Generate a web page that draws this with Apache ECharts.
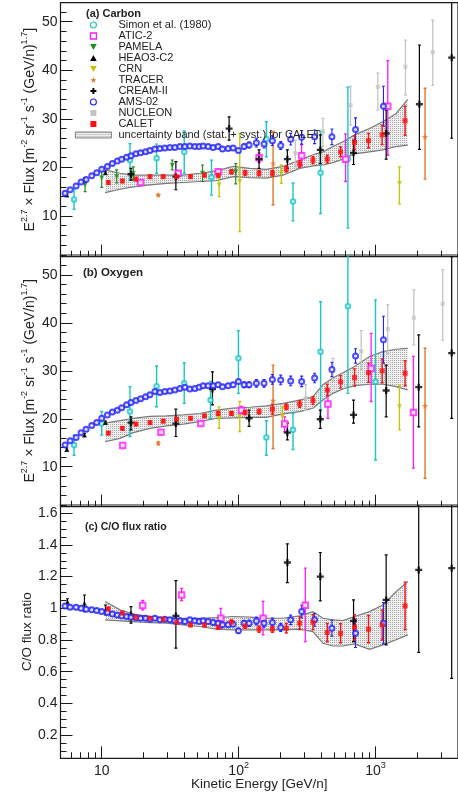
<!DOCTYPE html>
<html><head><meta charset="utf-8">
<script src="https://cdn.jsdelivr.net/npm/echarts@6/dist/echarts.min.js"></script>
<style>html,body{margin:0;padding:0;background:#fff}#c{width:458px;height:799px}</style>
</head><body><div id="c"></div>
<script>
// ---------- DATA ----------
// AMS-02 (shared energy bins, GeV/n)
const amsE = [5.40,5.88,6.50,7.07,7.69,8.46,9.19,10.0,11.0,11.96,13.01,13.99,15.21,16.36,17.79,19.24,20.93,22.51,24.47,26.62,28.95,31.48,34.23,37.23,40.50,44.04,47.89,51.50,55.08,59.91,65.14,70.85,76.20,83.80,91.13,99.66,109.6,119.2,134.8,153.3,176.4,202.9,239.9,288.5,358.8,480.0,714.2,1142];
const amsC = [14.7,15.4,16.2,17.0,17.5,18.3,18.9,19.6,20.2,20.8,21.3,21.7,22.1,22.4,22.8,23.0,23.2,23.5,23.8,23.9,24.0,24.1,24.1,24.3,24.3,24.4,24.3,24.3,24.4,24.3,24.1,24.3,23.8,23.9,24.0,23.5,24.3,24.6,25.1,24.8,25.5,24.5,25.8,26.2,26.3,26.3,27.8,32.6];
const amsCErr = [0.3,0.3,0.3,0.3,0.3,0.3,0.3,0.3,0.3,0.3,0.3,0.3,0.3,0.3,0.3,0.3,0.3,0.3,0.3,0.3,0.3,0.3,0.3,0.3,0.3,0.3,0.3,0.3,0.3,0.3,0.4,0.4,0.4,0.4,0.4,0.4,0.5,0.6,0.9,0.8,1.0,0.8,1.2,1.4,1.4,1.6,2.4,4.1];
const amsO = [14.5,15.4,16.1,17.1,17.8,18.6,19.2,20.1,20.8,21.4,21.8,22.3,22.9,23.4,23.8,24.2,24.6,25.0,25.7,25.5,25.7,25.8,26.0,26.3,26.6,26.2,26.3,26.6,26.9,26.9,26.9,27.1,26.7,26.9,27.1,27.8,27.1,27.1,27.4,27.4,28.2,28.1,27.9,27.8,28.5,30.3,33.1,36.5];
const amsOErr = [0.3,0.3,0.3,0.3,0.3,0.3,0.3,0.3,0.3,0.3,0.3,0.3,0.3,0.3,0.3,0.3,0.3,0.3,0.3,0.3,0.3,0.3,0.3,0.3,0.3,0.3,0.3,0.3,0.3,0.3,0.4,0.4,0.4,0.4,0.4,0.4,0.6,0.6,0.8,0.8,1.0,1.0,1.0,1.1,1.0,1.5,1.5,4.9];
const amsCO = [1.015,1.007,1.007,1.000,0.994,0.990,0.986,0.979,0.973,0.964,0.958,0.952,0.948,0.944,0.941,0.937,0.937,0.931,0.937,0.927,0.931,0.927,0.922,0.922,0.916,0.927,0.922,0.916,0.922,0.916,0.910,0.906,0.896,0.896,0.900,0.858,0.906,0.906,0.920,0.906,0.910,0.878,0.927,0.979,0.927,0.874,0.842,0.906];
const amsCOErr = [0.012,0.012,0.012,0.012,0.012,0.012,0.012,0.012,0.012,0.012,0.012,0.012,0.012,0.012,0.012,0.012,0.012,0.012,0.012,0.012,0.012,0.012,0.012,0.012,0.012,0.012,0.012,0.012,0.012,0.012,0.015,0.015,0.015,0.015,0.015,0.015,0.018,0.02,0.025,0.025,0.028,0.025,0.03,0.04,0.04,0.05,0.09,0.13];

// CALET (shared energy bins)
const caletE = [11.18,14.15,17.79,22.51,28.15,35.21,44.54,56.31,70.85,88.60,111.5,141.0,176.4,223.1,279.0,349.0,443.9,555.2,702.3,888.1,1117,1643];
const caletC = [16.9,17.2,17.6,18.1,18.1,18.1,18.1,18.4,18.4,19.1,18.9,18.8,18.8,19.7,20.7,21.5,21.7,23.2,25.1,25.5,26.7,29.6];
const caletCErr = [0.3,0.3,0.3,0.3,0.3,0.3,0.3,0.3,0.4,0.4,0.5,0.5,0.6,0.6,0.7,0.7,0.8,1.0,1.4,1.5,2.0,3.0];
const caletO = [17.0,18.0,18.9,19.2,19.5,19.9,20.1,20.6,21.1,21.1,21.3,21.5,22.0,22.5,23.1,23.8,26.0,27.7,28.6,29.6,30.0,29.5];
const caletOErr = [0.3,0.3,0.3,0.3,0.3,0.3,0.3,0.3,0.4,0.4,0.5,0.5,1.0,0.6,0.7,0.8,1.2,1.3,1.8,2.0,2.5,2.6];
const caletCO = [0.996,0.969,0.943,0.937,0.931,0.912,0.895,0.895,0.880,0.912,0.889,0.868,0.868,0.874,0.906,0.912,0.847,0.842,0.880,0.868,0.895,1.015];
const caletCOErr = [0.01,0.01,0.01,0.01,0.01,0.01,0.01,0.01,0.012,0.015,0.015,0.02,0.02,0.03,0.04,0.047,0.058,0.06,0.08,0.086,0.095,0.15];

// CALET uncertainty band
const bandE = [10.58,13.60,17.01,22.51,29.78,39.38,52.08,68.88,91.13,120.5,159.4,210.9,279.0,349.0,412.7,488.2,577.4,702.3,903.2,1130,1413,1719];
const bandCLow  = [14.8,15.5,16.0,16.4,16.7,16.9,17.1,17.3,18.1,17.9,17.8,18.4,19.8,20.3,20.5,21.0,21.7,22.8,23.2,23.6,24.3,24.6];
const bandCHigh = [19.5,18.8,18.4,18.4,18.4,18.4,18.8,19.3,20.2,19.8,19.6,20.2,21.5,22.6,23.2,24.3,25.3,26.7,28.0,29.4,31.1,34.0];
const bandOLow  = [15.2,15.9,17.1,18.0,18.5,18.9,19.4,20.1,20.2,20.3,20.3,21.0,21.5,22.2,23.9,25.3,26.2,26.9,27.2,27.2,26.7,26.0];
const bandOHigh = [19.1,19.6,20.1,20.5,20.6,20.8,21.1,21.8,22.2,22.4,22.7,23.2,23.9,24.6,27.1,28.5,29.6,30.9,33.0,34.0,34.5,34.7];
const bandCOLow  = [0.927,0.921,0.916,0.910,0.906,0.895,0.885,0.868,0.864,0.864,0.864,0.864,0.868,0.853,0.779,0.762,0.762,0.775,0.741,0.769,0.801,0.832];
const bandCOHigh = [1.043,0.990,0.964,0.948,0.941,0.937,0.937,0.941,0.948,0.944,0.937,0.937,0.952,0.979,0.937,0.927,0.922,0.948,0.979,1.021,1.105,1.169];

// Other experiments: [E, value, low, high]
const simonC = [[6.28,13.4,11.4,15.5],[16.09,21.5,17.4,24.9],[25.17,21.9,18.8,24.8],[40.05,23.2,18.8,27.5],[63.35,18.0,14.3,21.5],[159.4,25.8,22.2,29.4],[249.5,13.0,9.0,16.8],[396.8,18.9,10.5,27.4],[628.0,21.8,7.5,36.5]];
const aticC = [[19.24,16.9,16.5,17.3],[36.2,18.8,18.3,19.3],[70.85,19.1,18.6,19.6],[141.0,22.0,21.0,23.0],[288.5,22.4,20.4,24.7],[603.8,21.7,17.1,26.9],[1228,32.6,22.5,42.0]];
const pamelaC = [[7.56,16.4,15.0,17.8],[10.0,17.8,15.9,19.5],[12.86,18.1,16.8,19.5],[17.01,18.8,17.4,20.1],[32.74,20.4,19.5,21.5],[54.47,18.8,17.1,20.5],[95.3,19.1,16.6,20.8]];
const heaoC = [[5.56,14.3,14.0,14.6],[7.48,17.4,17.0,17.8],[10.63,18.9,18.6,19.2]];
const crnC = [[72.05,16.4,14.0,18.8],[101.9,17.1,6.8,27.0],[205.1,18.8,16.7,20.5],[1494,16.7,12.5,20.1]];
const tracerC = [[25.88,14.3,14.1,14.5],[178.4,20.8,12.3,27.4],[2298,26.3,17.6,36.3]];
const creamC = [[16.36,18.6,17.4,19.8],[34.8,18.1,15.4,21.2],[85.2,28.0,25.6,30.4],[141.0,21.7,19.8,23.6],[226.9,21.7,19.8,23.6],[394.7,23.6,20.8,26.7],[690.5,23.0,20.6,25.6],[1195,27.0,21.7,31.8],[2090,33.0,23.7,45.2],[3597,42.6,26.0,56.0]];
const nucleonC = [[259.4,22.9,20.1,25.6],[412.6,27.4,24.3,30.1],[656.8,32.8,28.7,36.7],[1039,36.6,31.8,39.4],[1653,40.7,34.9,46.2],[2615,43.7,36.9,50.3]];

const simonO = [[6.28,14.5,12.4,16.6],[10.0,19.0,16.6,21.5],[16.09,21.5,16.3,26.7],[25.17,26.8,22.5,31.0],[40.05,27.4,23.2,31.7],[62.3,23.9,20.1,27.8],[99.66,32.6,25.3,38.4],[159.4,16.1,12.4,19.6],[249.5,17.7,13.6,21.1],[396.8,34.0,20.1,44.4],[628.0,43.5,25.3,56.0],[998.9,27.7,11.4,44.8]];
const aticO = [[14.23,14.4,14.1,14.7],[27.07,17.2,16.9,17.5],[52.97,19.0,18.7,19.3],[104.8,21.8,21.0,22.6],[216.9,18.9,17.3,20.4],[448.9,23.1,20.1,26.0],[928.8,30.5,23.6,37.8],[1890,21.3,9.7,33.0]];
const heaoO = [[5.56,13.6,13.3,13.9],[7.48,16.6,16.3,16.9],[10.63,19.2,18.9,19.5]];
const crnO = [[72.05,20.1,18.0,22.5],[101.9,20.4,17.3,23.6],[208.5,20.4,18.4,22.5],[1494,22.5,17.7,27.0]];
const tracerO = [[25.88,14.9,14.6,15.2],[178.4,23.8,13.8,31.2],[2298,22.7,7.6,34.7]];
const creamO = [[16.36,19.2,17.7,20.4],[34.8,19.0,16.3,22.0],[64.4,26.2,22.9,29.8],[119.2,20.1,18.4,21.8],[226.9,17.1,15.6,19.1],[394.7,19.9,18.0,21.8],[690.5,20.8,19.1,23.9],[1195,25.9,20.4,31.2],[2066,26.6,18.3,37.5],[3597,33.7,20.1,53.8]];
const nucleonO = [[308.5,24.3,21.8,27.1],[488.2,30.0,27.8,32.6],[785.6,34.1,30.2,38.4],[1228,38.7,33.6,43.8],[1903,41.1,35.4,46.9],[3092,44.0,36.4,51.1]];

const aticCO = [[19.9,1.017,0.990,1.049],[38.3,1.084,1.049,1.126],[74.1,0.937,0.874,1.000],[150.8,0.937,0.832,1.043],[306.8,1.019,0.790,1.253]];
const heaoCO = [[5.62,1.042,1.020,1.060],[7.48,1.032,0.979,1.084],[10.63,0.985,0.958,1.021]];
const creamCO = [[16.36,0.958,0.906,1.011],[34.8,0.952,0.748,1.175],[226.9,1.289,1.162,1.406],[394.7,1.200,1.047,1.352],[690.5,0.920,0.790,1.053],[1195,1.053,0.769,1.337],[2066,1.242,0.722,1.70],[3597,1.253,0.558,1.70]];

// Axis ticks
const xMajor = [10,100,1000];
const xMinor = [6,7,8,9,20,30,40,50,60,70,80,90,200,300,400,500,600,700,800,900,2000,3000,4000];
const yFluxMajor = [10,20,30,40,50];
const yFluxMinor = [2,4,6,8,12,14,16,18,22,24,26,28,32,34,36,38,42,44,46,48,52];
const yRatioMajor = [0.2,0.4,0.6,0.8,1.0,1.2,1.4,1.6];
const yRatioMinor = [0.05,0.1,0.15,0.25,0.3,0.35,0.45,0.5,0.55,0.65,0.7,0.75,0.85,0.9,0.95,1.05,1.1,1.15,1.25,1.3,1.35,1.45,1.5,1.55,1.65];

// ---------- CHART ----------
const FONT = 'Liberation Sans, Arial, Helvetica, sans-serif';
const TXT = '#222';
const COL = {simon:'#19c6c6', atic:'#ff1aff', pamela:'#1e8c1e', heao:'#000', crn:'#c4c400', tracer:'#e0782a', cream:'#000', ams:'#2222ff', nucleon:'#c4c4c4', calet:'#ff1010'};
const STAR = 'path://M50,0L61,35L98,35L68,57L79,91L50,70L21,91L32,57L2,35L39,35Z';
const DTRI = 'path://M0,0L10,0L5,9Z';
const UTRI = 'path://M5,0L10,9L0,9Z';
const SQ = 'path://M0,0H10V10H0Z';
const CROSS = 'path://M3,0H6V3H9V6H6V9H3V6H0V3H3Z';
const NAMES = {simon:'Simon et al. (1980)', atic:'ATIC-2', pamela:'PAMELA', heao:'HEAO3-C2', crn:'CRN', tracer:'TRACER', cream:'CREAM-II', ams:'AMS-02', nucleon:'NUCLEON', calet:'CALET', band:'uncertainty band (stat. + syst.) for CALET'};

function makePattern(){
  const c = document.createElement('canvas'); c.width = 2; c.height = 2;
  const g = c.getContext('2d');
  g.fillStyle = '#efefef'; g.fillRect(0,0,2,2);
  g.fillStyle = '#a8a8a8'; g.fillRect(0,0,1,1);
  return c;
}
const PATTERN = {image: makePattern(), repeat: 'repeat'};

function fromArrays(E, v, err){ return E.map((e,i)=>[e, v[i], v[i]-err[i], v[i]+err[i]]); }

const STY = {
  simon:  {symbol:'emptyCircle', size:4.5, lw:1.4, bw:1.1},
  atic:   {symbol:'emptyRect', size:5.5, lw:1.3, bw:1.2},
  pamela: {symbol:DTRI, size:5, lw:1.2},
  heao:   {symbol:'triangle', size:5, lw:1.1},
  crn:    {symbol:DTRI, size:5, lw:1.3},
  tracer: {symbol:STAR, size:6.5, lw:1.4},
  cream:  {symbol:CROSS, size:7, lw:1.2},
  ams:    {symbol:'emptyCircle', size:5, lw:1.1, bw:1.0},
  nucleon:{symbol:'rect', size:4, lw:1.3},
  calet:  {symbol:'rect', size:5, lw:1.4}
};

function errRender(color, lw){
  return function(params, api){
    const x = api.value(0), lo = api.value(2), hi = api.value(3);
    const p1 = api.coord([x, lo]), p2 = api.coord([x, hi]);
    const w = 1.5;
    const st = {stroke: color, lineWidth: lw};
    return {type:'group', children:[
      {type:'line', shape:{x1:p1[0], y1:p1[1], x2:p2[0], y2:p2[1]}, style:st},
      {type:'line', shape:{x1:p1[0]-w, y1:p1[1], x2:p1[0]+w, y2:p1[1]}, style:st},
      {type:'line', shape:{x1:p2[0]-w, y1:p2[1], x2:p2[0]+w, y2:p2[1]}, style:st}
    ]};
  };
}

function bandRender(params, api){
  if (params.dataIndexInside !== 0) return null;
  const n = params.dataInsideLength;
  const up = [], low = [];
  for (let i = 0; i < n; i++){
    const e = api.value(0, i);
    low.push(api.coord([e, api.value(1, i)]));
    up.push(api.coord([e, api.value(2, i)]));
  }
  const poly = up.concat(low.slice().reverse());
  return {type:'group', children:[
    {type:'polygon', shape:{points:poly}, style:{fill:PATTERN, stroke:'none'}},
    {type:'polyline', shape:{points:up}, style:{stroke:'#7a7a7a', lineWidth:1.2, fill:'none'}},
    {type:'polyline', shape:{points:low}, style:{stroke:'#7a7a7a', lineWidth:1.2, fill:'none'}}
  ]};
}

const series = [];
function addBand(panel, low, high){
  series.push({type:'custom', name:NAMES.band, xAxisIndex:panel*2, yAxisIndex:panel*2, z:1, silent:true, clip:true,
    data: bandE.map((e,i)=>[e, low[i], high[i]]), renderItem: bandRender, encode:{x:0, y:[1,2]}});
}
function addSet(key, panel, data){
  const s = STY[key], c = COL[key];
  series.push({type:'custom', name:NAMES[key], xAxisIndex:panel*2, yAxisIndex:panel*2, silent:true, clip:true,
    data, renderItem: errRender(c, s.lw), encode:{x:0, y:1}});
  const hollow = s.symbol.indexOf('empty') === 0;
  series.push({type:'scatter', name:NAMES[key], xAxisIndex:panel*2, yAxisIndex:panel*2, silent:true,
    data: data.map(d=>[d[0], d[1]]), symbol:s.symbol, symbolSize:s.size,
    itemStyle: hollow ? {color:c, borderColor:c, borderWidth:s.bw} : {color:c}});
}

// Panel (a) Carbon
addBand(0, bandCLow, bandCHigh);
addSet('nucleon',0,nucleonC); addSet('simon',0,simonC); addSet('atic',0,aticC); addSet('pamela',0,pamelaC);
addSet('heao',0,heaoC); addSet('crn',0,crnC); addSet('tracer',0,tracerC); addSet('cream',0,creamC);
addSet('ams',0,fromArrays(amsE, amsC, amsCErr)); addSet('calet',0,fromArrays(caletE, caletC, caletCErr));
// Panel (b) Oxygen
addBand(1, bandOLow, bandOHigh);
addSet('nucleon',1,nucleonO); addSet('simon',1,simonO); addSet('atic',1,aticO);
addSet('heao',1,heaoO); addSet('crn',1,crnO); addSet('tracer',1,tracerO); addSet('cream',1,creamO);
addSet('ams',1,fromArrays(amsE, amsO, amsOErr)); addSet('calet',1,fromArrays(caletE, caletO, caletOErr));
// Panel (c) C/O
addBand(2, bandCOLow, bandCOHigh);
addSet('atic',2,aticCO); addSet('heao',2,heaoCO); addSet('cream',2,creamCO);
addSet('ams',2,fromArrays(amsE, amsCO, amsCOErr)); addSet('calet',2,fromArrays(caletE, caletCO, caletCOErr));

const grids = [
  {left:60.5, right:-2, top:2.7, height:254},
  {left:60.5, right:-2, top:255, height:251.7},
  {left:60.5, right:-2, top:505, height:253.3}
].map(g=>Object.assign(g, {show:true, borderColor:'#1a1a1a', borderWidth:1.2, backgroundColor:'transparent'}));

const xAxes = [], yAxes = [];
const yRanges = [[1.62,53.91],[1.65,54.17],[0.053,1.652]];
const fluxName = 'E{s|2.7} × Flux [m{s|-2} sr{s|-1} s{s|-1} (GeV/n){s|1.7}]';
for (let i = 0; i < 3; i++){
  const last = i === 2;
  xAxes.push({type:'log', logBase:10, gridIndex:i, position:'bottom', min:5, max:4000,
    axisLine:{show:false}, splitLine:{show:false},
    axisTick:{show:true, inside:true, length:12, customValues:xMajor, lineStyle:{color:'#1a1a1a', width:1}},
    axisLabel:{show:last, customValues:xMajor, margin:3, fontSize:14, color:TXT, fontFamily:FONT, lineHeight:20,
      formatter: v => v < 50 ? '10' : '10{s|' + Math.round(Math.log10(v)) + '}',
      rich:{s:{fontSize:9, lineHeight:9, verticalAlign:'top', color:TXT, fontFamily:FONT}}},
    name: last ? 'Kinetic Energy [GeV/n]' : '', nameLocation:'middle', nameGap:19, nameMoveOverlap:false,
    nameTextStyle:{fontSize:13.5, color:TXT, fontFamily:FONT}});
  xAxes.push({type:'log', logBase:10, gridIndex:i, position:'bottom', min:5, max:4000,
    axisLine:{show:false}, splitLine:{show:false}, axisLabel:{show:false},
    axisTick:{show:true, inside:true, length:6, customValues:xMinor, lineStyle:{color:'#1a1a1a', width:1}}});
  const ratio = i === 2;
  yAxes.push({type:'value', gridIndex:i, position:'left', min:yRanges[i][0], max:yRanges[i][1],
    axisLine:{show:false}, splitLine:{show:false},
    axisTick:{show:true, inside:true, length:12, customValues: ratio ? yRatioMajor : yFluxMajor, lineStyle:{color:'#1a1a1a', width:1}},
    axisLabel:{customValues: ratio ? yRatioMajor : yFluxMajor, margin:3, fontSize:14, color:TXT, fontFamily:FONT,
      formatter: v => String(parseFloat(Number(v).toFixed(2)))},
    name: ratio ? 'C/O flux ratio' : fluxName, nameLocation:'middle', nameGap: ratio ? 23 : 20, nameMoveOverlap:false,
    nameTextStyle:{fontSize: ratio ? 13.5 : 14, color:TXT, fontFamily:FONT, lineHeight:20,
      rich:{s:{fontSize:9, lineHeight:9, verticalAlign:'top', color:TXT, fontFamily:FONT}}}});
  yAxes.push({type:'value', gridIndex:i, position:'left', min:yRanges[i][0], max:yRanges[i][1],
    axisLine:{show:false}, splitLine:{show:false}, axisLabel:{show:false},
    axisTick:{show:true, inside:true, length:6, customValues: ratio ? yRatioMinor : yFluxMinor, lineStyle:{color:'#1a1a1a', width:1}}});
}

const legendData = [
  {name:NAMES.simon, icon:'circle', itemStyle:{color:'#fff', borderColor:COL.simon, borderWidth:1.2}},
  {name:NAMES.atic, icon:SQ, itemStyle:{color:'#fff', borderColor:COL.atic, borderWidth:1.3}},
  {name:NAMES.pamela, icon:DTRI, itemStyle:{color:COL.pamela}},
  {name:NAMES.heao, icon:UTRI, itemStyle:{color:COL.heao}},
  {name:NAMES.crn, icon:DTRI, itemStyle:{color:COL.crn}},
  {name:NAMES.tracer, icon:STAR, itemStyle:{color:COL.tracer}},
  {name:NAMES.cream, icon:CROSS, itemStyle:{color:COL.cream}},
  {name:NAMES.ams, icon:'circle', itemStyle:{color:'#fff', borderColor:COL.ams, borderWidth:1.1}},
  {name:NAMES.nucleon, icon:SQ, itemStyle:{color:COL.nucleon}},
  {name:NAMES.calet, icon:SQ, itemStyle:{color:COL.calet}},
  {name:NAMES.band, icon:'path://M0,0H36V6H0Z', itemStyle:{color:PATTERN, borderColor:'#666', borderWidth:0.8}}
];

const option = {
  animation:false,
  backgroundColor:'#fff',
  textStyle:{fontFamily:FONT},
  title:[
    {text:'(a) Carbon', left:86, top:8, padding:0, textStyle:{fontSize:11, fontWeight:'bold', color:TXT, lineHeight:12, fontFamily:FONT}},
    {text:'(b) Oxygen', left:83, top:267.3, padding:0, textStyle:{fontSize:11.5, fontWeight:'bold', color:TXT, lineHeight:12, fontFamily:FONT}},
    {text:'(c) C/O flux ratio', left:85, top:520.7, padding:0, textStyle:{fontSize:10.5, fontWeight:'bold', color:TXT, lineHeight:12, fontFamily:FONT}}
  ],
  legend:{orient:'vertical', left:75, top:19.5, padding:0, itemWidth:40, itemHeight:6, itemGap:0,
    selectedMode:false, data:legendData,
    textStyle:{fontSize:11, lineHeight:8.9, color:TXT, fontFamily:FONT}},
  grid:grids, xAxis:xAxes, yAxis:yAxes, series
};
const chart = echarts.init(document.getElementById('c'), null, {renderer:'canvas'});
chart.setOption(option);
</script></body></html>
